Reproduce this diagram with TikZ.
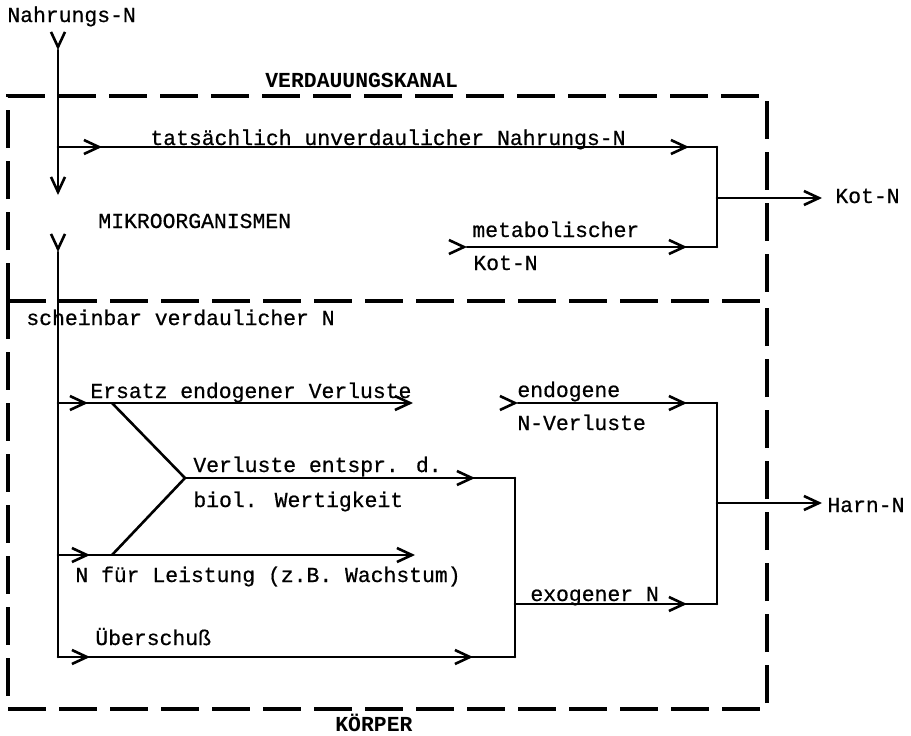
\documentclass[tikz,border=0pt]{standalone}
\usepackage{fontspec}
\setmainfont{Liberation Mono}[UprightFeatures={FakeBold=0.6}]
\usetikzlibrary{arrows.meta,decorations.markings}
\tikzset{
  flow/.style={line width=1.3pt, line cap=round, line join=miter},
  tip/.style={-{Straight Barb[length=7.5pt, width=7pt, line width=1.3pt]}},
  barb at/.style={postaction={decorate, decoration={markings,
      mark=at position #1 with {\arrow{Straight Barb[length=7.5pt, width=7pt, line width=1.3pt]}}}}},
  box/.style={line width=1.8pt, dash pattern=on 19pt off 6.5pt},
  lab/.style={anchor=base west, inner sep=0pt, font=\fontsize{10.7}{12}\selectfont},
  title/.style={lab, font=\fontsize{10.7}{12}\selectfont\bfseries},
}

\begin{document}
\begin{tikzpicture}[x=0.5pt, y=-0.5pt]
  \useasboundingbox (0,0) rectangle (911,735);

  % dashed frames: Verdauungskanal above, Koerper below
  \draw[box] (8,301) -- (8,96) -- (767,96) -- (767,301);
  \draw[box] (8,301) -- (767,301);
  \draw[box] (8,301) -- (8,709) -- (767,709) -- (767,301);
  \node[title] (kanal) at (265,87) {VERDAUUNGSKANAL};
  \node[title] (koerper) at (335,731) {KÖRPER};

  % points of the flow lines
  \coordinate (n in) at (58,50);
  \coordinate (n down) at (58,195);
  \coordinate (j1) at (58,147);
  \coordinate (k1) at (717,147);
  \coordinate (met) at (467,247);
  \coordinate (k2) at (717,247);
  \coordinate (k0) at (717,198);
  \coordinate (kot) at (822,198);
  \coordinate (m out) at (58,252);
  \coordinate (j2) at (58,403);
  \coordinate (e end) at (413,403);
  \coordinate (j3) at (58,555);
  \coordinate (l end) at (415,555);
  \coordinate (b1) at (112,403);
  \coordinate (bm) at (185,478);
  \coordinate (b2) at (112,555);
  \coordinate (v1) at (515,478);
  \coordinate (v2) at (515,657);
  \coordinate (j4) at (58,657);
  \coordinate (x1) at (515,604);
  \coordinate (h2) at (717,604);
  \coordinate (en) at (518,403);
  \coordinate (h1) at (717,403);
  \coordinate (h0) at (717,503);
  \coordinate (harn) at (822,503);

  % Verdauungskanal
  \node[lab] (food) at (7,22) {Nahrungs-N};
  \draw[flow, tip, barb at=0pt] (n in) -- (n down);
  \draw[flow, barb at=22pt, barb at=-14pt] (j1) -- (k1);
  \node[lab] (undig) at (150,145) {tatsächlich unverdaulicher Nahrungs-N};
  \node[lab] (mikro) at (98,228) {MIKROORGANISMEN};
  \draw[flow, barb at=0pt, barb at=-15pt] (met) -- (k2);
  \node[lab] (meta) at (472,237) {metabolischer};
  \node[lab] (meta2) at (473,270) {Kot-N};
  \draw[flow] (k1) -- (k2);
  \draw[flow, tip] (k0) -- (kot);
  \node[lab] (kotN) at (835,203) {Kot-N};

  % Koerper
  \draw[flow, barb at=0pt] (m out) -- (j4);
  \node[lab] (schein) at (26,325) {scheinbar verdaulicher N};
  \draw[flow, tip, barb at=15pt] (j2) -- (e end);
  \node[lab] (ersatz) at (90,398) {Ersatz endogener Verluste};
  \draw[flow, tip, barb at=16pt] (j3) -- (l end);
  \node[lab] (leist) at (75,582) {N für Leistung (z.B. Wachstum)};
  \draw[flow] (b1) -- (bm) -- (b2);
  \draw[flow, barb at=-20pt] (bm) -- (v1);
  \draw[flow] (v1) -- (v2);
  \node[lab] (verl) at (193,472) {Verluste entspr. d.};
  \node[lab] (verl2) at (193,507) {biol. Wertigkeit};
  \draw[flow, barb at=16pt, barb at=-21pt] (j4) -- (v2);
  \node[lab] (ueber) at (95,645) {Überschuß};
  \draw[flow, barb at=-15pt] (x1) -- (h2);
  \node[lab] (exo) at (530,601) {exogener N};
  \draw[flow, barb at=0pt, barb at=-15pt] (en) -- (h1);
  \node[lab] (endo) at (517,397) {endogene};
  \node[lab] (endo2) at (517,430) {N-Verluste};
  \draw[flow] (h1) -- (h2);
  \draw[flow, tip] (h0) -- (harn);
  \node[lab] (harnN) at (827,512) {Harn-N};

\end{tikzpicture}
\end{document}
